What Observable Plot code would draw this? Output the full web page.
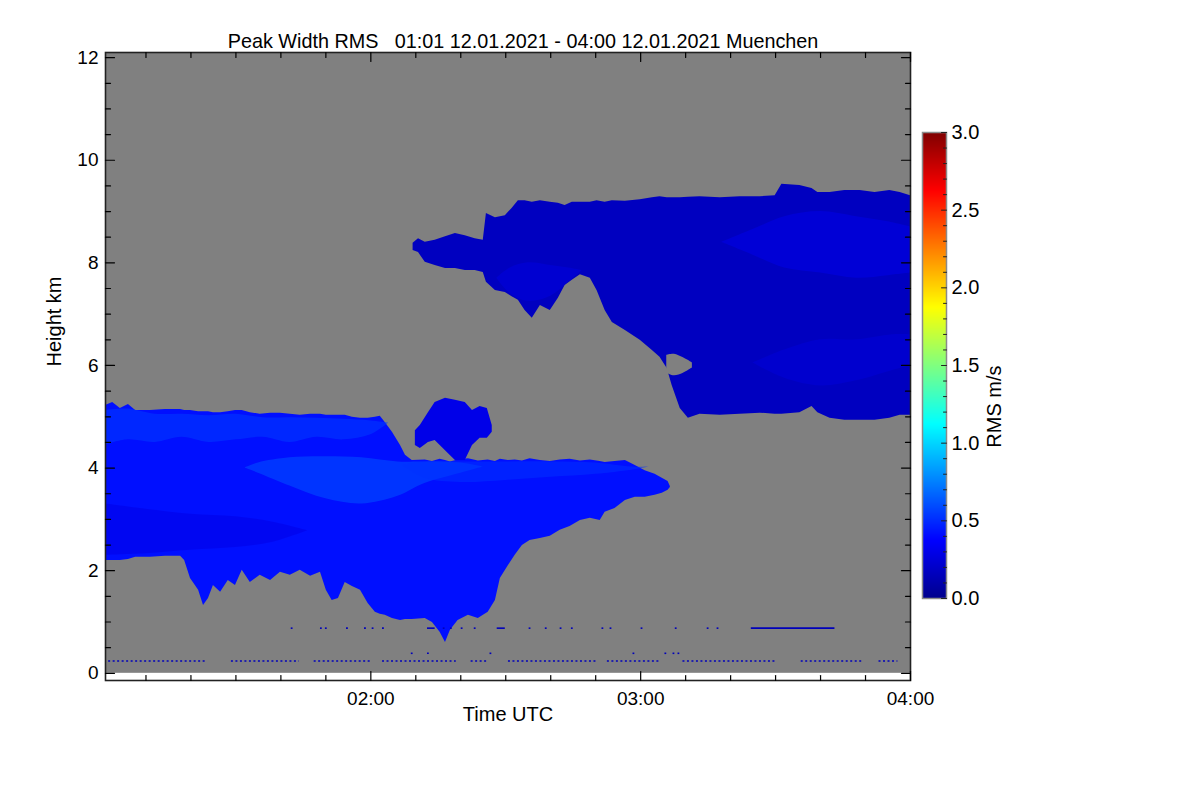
<!DOCTYPE html>
<html>
<head>
<meta charset="utf-8">
<script src="https://cdn.jsdelivr.net/npm/d3@7"></script>
<script src="https://cdn.jsdelivr.net/npm/@observablehq/plot@0.6"></script>
<style>
  body { margin: 0; background: #fff; }
  #wrap { position: relative; width: 1200px; height: 800px; overflow: hidden; font-family: "Liberation Sans", Arial, Helvetica, sans-serif; }
  #wrap svg { position: absolute; overflow: visible; }
  #wrap svg text { white-space: pre; }
</style>
</head>
<body>
<div id="wrap"></div>
<script>
// ---------------- DATA ----------------
// time in minutes after 00:00 UTC (12.01.2021), height in km, value = peak width RMS (m/s)
const titleText = "Peak Width RMS   01:01 12.01.2021 - 04:00 12.01.2021 Muenchen";
const timeDomain = [61, 240];          // 01:01 .. 04:00
const heightDomain = [-0.14, 12.1];
const gateRange = [0, 12.1];           // measured height range (grey = no signal)

const xMajorTicks = [120, 180, 240];
const xMinorTicks = [70, 80, 90, 100, 110, 130, 140, 150, 160, 170, 190, 200, 210, 220, 230];
const yMajorTicks = [0, 2, 4, 6, 8, 10, 12];
const yMinorTicks = [0.5, 1, 1.5, 2.5, 3, 3.5, 4.5, 5, 5.5, 6.5, 7, 7.5, 8.5, 9, 9.5, 10.5, 11, 11.5];
const cbMajorTicks = [0, 0.5, 1, 1.5, 2, 2.5, 3];
const cbMinorTicks = [0.1,0.2,0.3,0.4,0.6,0.7,0.8,0.9,1.1,1.2,1.3,1.4,1.6,1.7,1.8,1.9,2.1,2.2,2.3,2.4,2.6,2.7,2.8,2.9];

// jet colour table for 0..3 m/s
const jetStops  = [0, 0.375, 1.125, 1.875, 2.625, 3];
const jetColors = ["#00008c", "#0000ff", "#00ffff", "#ffff00", "#ff0000", "#800000"];

// lower cloud layer (01:01 - 03:07)
const lowerT = [61.0,62.6,64.3,66.1,67.7,71.0,74.3,77.7,78.6,79.9,
  81.7,82.8,83.9,85.0,86.6,88.3,89.9,91.4,93.2,95.4,
  97.7,99.9,102.1,104.3,106.6,108.8,110.1,111.4,112.8,114.3,
  115.9,117.7,119.4,121.0,122.1,123.2,124.8,126.6,127.7,129.2,
  132.1,133.7,135.4,136.6,137.7,139.4,141.7,143.9,146.1,147.7,
  148.8,150.6,152.1,153.7,155.4,157.7,159.9,162.1,164.3,166.6,
  168.8,171.0,172.1,174.3,176.6,178.8,181.0,183.2,184.8,186.1,
  186.6];
const lowerTop = [5.22,5.28,5.16,5.24,5.12,5.12,5.14,5.14,5.12,5.12,
  5.10,5.10,5.10,5.08,5.08,5.10,5.12,5.12,5.08,5.05,
  5.07,5.07,5.05,5.03,5.05,5.05,5.03,5.03,5.03,5.03,
  4.99,4.97,4.97,4.99,5.01,4.89,4.70,4.44,4.25,4.15,
  4.16,4.13,4.17,4.15,4.12,4.16,4.18,4.14,4.16,4.13,
  4.17,4.15,4.16,4.14,4.18,4.15,4.13,4.16,4.17,4.14,
  4.16,4.13,4.11,4.13,4.15,4.05,3.95,3.88,3.80,3.74,
  3.64];
const lowerBase = [2.20,2.20,2.20,2.22,2.26,2.26,2.28,2.28,2.20,1.85,
  1.62,1.32,1.46,1.71,1.58,1.81,1.71,2.01,1.77,1.91,
  1.81,1.97,1.91,2.01,1.89,1.97,1.62,1.42,1.46,1.77,
  1.69,1.62,1.36,1.19,1.15,1.13,1.07,1.03,1.05,1.05,
  1.07,0.99,0.80,0.60,0.84,1.03,1.13,1.07,1.19,1.42,
  1.85,2.10,2.30,2.49,2.59,2.63,2.67,2.79,2.86,2.98,
  3.02,2.98,3.14,3.21,3.37,3.43,3.43,3.47,3.51,3.57,
  3.62];
const lowerValue = 0.42;

// detached cell above the lower layer (~02:10 - 02:27)
const blobT    = [129.9,131.0,132.8,134.3,136.6,138.8,141.0,142.6,144.3,145.9,147.0];
const blobTop  = [4.73,4.83,5.08,5.28,5.36,5.32,5.28,5.12,5.20,5.16,4.83];
const blobBase = [4.44,4.38,4.50,4.54,4.34,4.15,4.15,4.44,4.58,4.58,4.70];
const blobValue = 0.3;

// upper cloud layer (02:09 - 04:00)
const upperT = [129.4,130.6,132.1,134.3,136.6,138.8,141.0,143.2,145.0,145.7,
  147.7,149.9,151.4,152.8,154.3,155.9,157.7,159.9,161.7,163.2,
  164.8,166.6,168.8,170.3,172.1,173.7,176.6,179.9,182.6,184.3,
  185.9,187.0,188.8,190.6,193.2,197.7,202.1,206.6,209.9,211.4,
  215.4,218.1,219.4,222.1,225.4,228.8,232.1,235.4,237.7,240.0];
const upperTop = [8.38,8.47,8.40,8.44,8.51,8.57,8.53,8.47,8.44,8.96,
  8.88,8.92,9.06,9.21,9.21,9.18,9.21,9.18,9.16,9.12,
  9.18,9.18,9.18,9.21,9.18,9.21,9.20,9.23,9.27,9.29,
  9.27,9.27,9.27,9.28,9.29,9.27,9.29,9.29,9.31,9.53,
  9.51,9.45,9.37,9.37,9.41,9.41,9.37,9.41,9.37,9.31];
const upperBase = [8.24,8.20,8.01,7.95,7.89,7.89,7.85,7.85,7.81,7.62,
  7.46,7.42,7.34,7.27,7.07,6.92,7.17,7.07,7.31,7.56,
  7.66,7.77,7.70,7.46,7.07,6.84,6.68,6.49,6.29,6.16,
  5.94,5.61,5.16,4.97,5.05,5.03,5.05,5.07,5.05,5.05,
  5.08,5.20,5.08,4.97,4.93,4.93,4.93,4.97,5.03,5.03];
const upperValue = 0.17;

// internal structure (brighter / darker zones), tapered at their ends
const zoneLowTopT  = [61,66,72,78,84,90,96,102,108,114,120,124];
const zoneLowTopY1 = [4.45,4.55,4.50,4.60,4.50,4.55,4.60,4.50,4.60,4.55,4.65,4.88];
const zoneLowTopY2 = [5.12,5.15,5.05,5.05,5.02,5.05,4.98,4.98,4.97,4.95,4.92,4.88];
const zoneLowTopV  = 0.55;

const zonePatchT  = [92,95,102,110,118,126,132,140,145];
const zonePatchY1 = [4.00,3.90,3.65,3.40,3.30,3.45,3.70,3.90,4.02];
const zonePatchY2 = [4.00,4.10,4.20,4.22,4.20,4.12,4.12,4.10,4.02];
const zonePatchV  = 0.62;

const zoneShelfT  = [127,132,140,150,160,170,178,182];
const zoneShelfY1 = [4.05,3.80,3.72,3.76,3.82,3.88,3.96,4.02];
const zoneShelfY2 = [4.05,4.12,4.12,4.12,4.12,4.10,4.02,4.02];
const zoneShelfV  = 0.52;

const zoneLowDarkT  = [61,70,80,90,98,106];
const zoneLowDarkY1 = [2.30,2.33,2.40,2.45,2.55,2.78];
const zoneLowDarkY2 = [3.30,3.20,3.10,3.05,2.95,2.78];
const zoneLowDarkV  = 0.3;

const zoneUpBrightT  = [198,205,212,220,228,235,240];
const zoneUpBrightY1 = [8.40,8.15,7.90,7.80,7.70,7.75,7.80];
const zoneUpBrightY2 = [8.40,8.65,8.90,9.00,8.90,8.80,8.70];
const zoneUpBrightV  = 0.3;

const zoneUpStreakT  = [148,151,155,160,164,167];
const zoneUpStreakY1 = [7.70,7.40,7.25,7.35,7.62,7.85];
const zoneUpStreakY2 = [7.70,7.90,8.00,7.95,7.90,7.85];
const zoneUpStreakV  = 0.27;

const zoneUpLowT  = [205,212,220,228,236,240];
const zoneUpLowY1 = [6.05,5.75,5.60,5.70,5.90,6.00];
const zoneUpLowY2 = [6.05,6.30,6.50,6.50,6.60,6.60];
const zoneUpLowV  = 0.25;

// gap without signal inside the upper layer
const holeT  = [185.8,187.5,189.5,191.5];
const holeY1 = [5.85,5.80,5.85,5.95];
const holeY2 = [6.20,6.22,6.15,6.05];

// ground clutter returns
const clutterValue = 0.15;
const clutterHighH = 0.88;
const clutterHigh = [[102.3,102.7],[108.8,109.2],[109.9,110.3],[114.6,115.0],[118.6,119.0],[120.3,120.7],
  [122.6,123.0],[132.6,134.3],[136.1,136.5],[137.7,138.1],[140.1,140.5],[143.0,143.4],[148.1,149.9],
  [155.2,155.6],[158.8,159.2],[162.1,162.5],[164.6,165.0],[171.4,171.8],[173.2,173.6],[180.1,180.5],
  [187.7,188.1],[194.8,195.2],[197.0,197.4],[204.6,223.2]];
const clutterMidH = 0.39;
const clutterMid = [[129.0,129.4],[132.6,133.0],[146.5,146.9],[178.3,178.7],[185.4,185.8],[187.2,187.6],[188.3,188.7]];
const clutterLowH = 0.24;
const clutterLow = [[61.7,83.2],[89.0,104.1],[107.4,120.3],[122.6,139.0],[142.3,145.9],
  [150.6,170.3],[172.6,184.3],[189.4,209.9],[215.7,229.7],[233.0,237.2]];

// ---------------- DRAWING ----------------
const colorScale = {type: "linear", domain: jetStops, range: jetColors, clamp: true};
const fmtTime = (m) => String(Math.floor(m / 60)).padStart(2, "0") + ":" + String(m % 60).padStart(2, "0");
const tickLine = {draw(ctx, l) { ctx.moveTo(0, 0); ctx.lineTo(0, -l); }};

function layer(T, Y1, Y2, v) {
  return Plot.areaY(T, {x: T, y1: Y1, y2: Y2, fill: () => v, curve: "linear"});
}
function zone(T, Y1, Y2, v) {
  return Plot.areaY(T, {x: T, y1: Y1, y2: Y2, fill: () => v, curve: "catmull-rom", fillOpacity: 0.55});
}
function clutter(spans, h, dash) {
  return Plot.ruleY(spans, {x1: d => d[0], x2: d => d[1], y: () => h, stroke: () => clutterValue, strokeWidth: 1.6, strokeDasharray: dash});
}
function ticks(values, axis, side, len) {
  const dom = axis === "x" ? heightDomain : timeDomain;
  const pos = side === 0 ? dom[0] : dom[1];
  const rot = axis === "x" ? (side === 0 ? 0 : 180) : (side === 0 ? 90 : -90);
  const opts = axis === "x" ? {x: d => d, y: () => pos} : {x: () => pos, y: d => d};
  return Plot.vector(values, {...opts, length: len, rotate: rot, anchor: "start", shape: tickLine, stroke: "#000", strokeWidth: 1.2});
}

const main = Plot.plot({
  width: 1200, height: 800,
  marginLeft: 105, marginRight: 290, marginTop: 52, marginBottom: 120,
  x: {domain: timeDomain},
  y: {domain: heightDomain},
  color: colorScale,
  style: {fontFamily: "'Liberation Sans', Arial, Helvetica, sans-serif", fontSize: "19px", color: "#000", background: "transparent"},
  marks: [
    Plot.rect([gateRange], {x1: () => timeDomain[0], x2: () => timeDomain[1], y1: d => d[0], y2: d => d[1], fill: "#808080"}),
    layer(lowerT, lowerBase, lowerTop, lowerValue),
    layer(blobT, blobBase, blobTop, blobValue),
    layer(upperT, upperBase, upperTop, upperValue),
    zone(zoneLowDarkT, zoneLowDarkY1, zoneLowDarkY2, zoneLowDarkV),
    zone(zoneLowTopT, zoneLowTopY1, zoneLowTopY2, zoneLowTopV),
    zone(zonePatchT, zonePatchY1, zonePatchY2, zonePatchV),
    zone(zoneShelfT, zoneShelfY1, zoneShelfY2, zoneShelfV),
    zone(zoneUpBrightT, zoneUpBrightY1, zoneUpBrightY2, zoneUpBrightV),
    zone(zoneUpStreakT, zoneUpStreakY1, zoneUpStreakY2, zoneUpStreakV),
    zone(zoneUpLowT, zoneUpLowY1, zoneUpLowY2, zoneUpLowV),
    Plot.areaY(holeT, {x: holeT, y1: holeY1, y2: holeY2, fill: "#808080", curve: "catmull-rom"}),
    clutter(clutterHigh, clutterHighH, null),
    clutter(clutterMid, clutterMidH, null),
    clutter(clutterLow, clutterLowH, "2,2.5"),
    Plot.frame({stroke: "#222", strokeWidth: 1.6}),
    ticks(xMajorTicks, "x", 0, 9), ticks(xMinorTicks, "x", 0, 5),
    ticks(xMajorTicks, "x", 1, 9), ticks(xMinorTicks, "x", 1, 5),
    ticks(yMajorTicks, "y", 0, 9), ticks(yMinorTicks, "y", 0, 5),
    ticks(yMajorTicks, "y", 1, 9), ticks(yMinorTicks, "y", 1, 5),
    Plot.axisX({ticks: xMajorTicks, tickFormat: fmtTime, tickSize: 0, tickPadding: 11, label: null, fontSize: 19}),
    Plot.axisY({ticks: yMajorTicks, tickFormat: d => String(d), tickSize: 0, tickPadding: 7, label: null, fontSize: 19}),
    Plot.text(["Time UTC"], {frameAnchor: "bottom", dy: 40, fontSize: 20}),
    Plot.text(["Height km"], {frameAnchor: "left", dx: -51, rotate: -90, fontSize: 20}),
    Plot.text([titleText], {frameAnchor: "top", dy: -19, dx: 15, fontSize: 19.8})
  ]
});
main.style.left = "0px"; main.style.top = "0px";

const bar = Plot.plot({
  width: 140, height: 522,
  marginLeft: 22, marginRight: 94, marginTop: 32, marginBottom: 24,
  x: {domain: [0, 1], axis: null},
  y: {domain: [0, 3], axis: null},
  color: colorScale,
  style: {fontFamily: "'Liberation Sans', Arial, Helvetica, sans-serif", fontSize: "20px", color: "#000", background: "transparent"},
  marks: [
    Plot.raster({x1: 0, x2: 1, y1: 0, y2: 3, fill: (x, y) => y, pixelSize: 1}),
    Plot.frame({stroke: "#8a8a8a", strokeWidth: 1.5}),
    Plot.vector(cbMinorTicks, {x: () => 1, y: d => d, length: 3, rotate: -90, anchor: "start", shape: tickLine, stroke: "#222", strokeWidth: 1}),
    Plot.vector(cbMajorTicks, {x: () => 1, y: d => d, length: 5, rotate: -90, anchor: "start", shape: tickLine, stroke: "#222", strokeWidth: 1}),
    Plot.axisY({anchor: "right", ticks: cbMajorTicks, tickFormat: d => d.toFixed(1), tickSize: 0, tickPadding: 5, label: null, fontSize: 20}),
    Plot.text(["RMS m/s"], {frameAnchor: "right", dx: 48, rotate: -90, fontSize: 20})
  ]
});
bar.style.left = "900px"; bar.style.top = "100px";

const wrap = document.getElementById("wrap");
wrap.appendChild(main);
wrap.appendChild(bar);
</script>
</body>
</html>
